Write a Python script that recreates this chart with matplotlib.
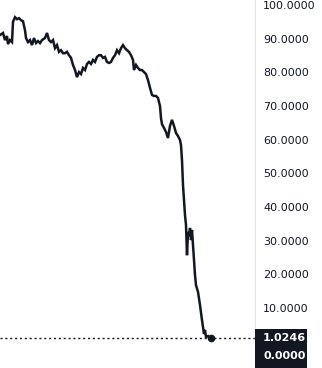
import matplotlib
matplotlib.use("Agg")
import matplotlib.pyplot as plt
from matplotlib.patches import Rectangle

# Data (time index, price)
t = [0, 3, 5, 7, 8, 10, 12, 13, 15, 17, 19, 21, 23, 25, 26, 28, 30, 32, 34, 36,
     38, 40, 42, 45, 47, 49, 51, 53, 55, 57, 59, 61, 63, 65, 67, 69, 71, 73, 75, 77,
     79, 81, 83, 85, 87, 89, 91, 93, 95, 97, 99, 101, 103, 105, 107, 109, 111, 113, 115, 117,
     119, 121, 123, 125, 127, 129, 131, 133, 134, 136, 138, 140, 142, 144, 146, 148, 150, 152, 154, 156,
     158, 160, 161, 162, 164, 166, 168, 170, 172, 174, 176, 178, 180, 181, 182, 183, 184, 185, 186, 187,
     188, 189, 190, 191, 192, 193, 194, 195, 196, 198, 200, 202, 204, 205, 206, 208, 210, 211]
price = [91.1, 91.7, 89.6, 90.8, 88.4, 89.6, 89.0, 95.0, 96.4, 95.8, 96.1, 95.5, 95.2, 92.5, 90.2, 89.0, 89.6, 88.1, 90.2, 88.7,
         89.3, 88.7, 89.6, 90.2, 91.7, 89.6, 89.0, 89.6, 87.2, 88.1, 86.1, 86.6, 85.7, 85.7, 86.1, 85.1, 84.3, 82.2, 80.7, 78.6,
         80.1, 79.5, 81.3, 80.7, 82.5, 83.1, 82.5, 83.7, 83.1, 84.6, 85.1, 85.1, 84.3, 84.6, 83.1, 82.8, 83.1, 84.3, 85.1, 86.6,
         85.7, 87.2, 88.1, 87.2, 86.6, 86.1, 85.1, 83.7, 80.7, 82.2, 81.3, 80.7, 80.7, 80.1, 79.5, 77.7, 75.4, 73.3, 73.0, 73.0,
         72.4, 70.0, 66.4, 64.6, 63.5, 62.3, 60.5, 64.1, 65.9, 64.1, 62.0, 61.1, 59.9, 58.4, 53.9, 46.5, 42.1, 37.6, 34.7, 25.7,
         32.6, 31.4, 33.8, 30.2, 33.2, 28.7, 24.3, 19.8, 16.8, 14.8, 10.9, 6.4, 2.3, 3.5, 1.4, 1.7, 1.1, 1.0246]
last_price = 1.0246
ytick_vals = [10, 20, 30, 40, 50, 60, 70, 80, 90, 100]

LINE = "#131722"
W, H = 322, 368
fig = plt.figure(figsize=(W / 100, H / 100), dpi=100)
ax = fig.add_axes([0, 0, 255 / W, 1])
ax.plot(t, price, color=LINE, lw=1.8, solid_joinstyle="miter")
ax.plot([t[-1]], [price[-1]], "o", color=LINE, ms=4.5)
ax.axhline(last_price, color=LINE, lw=1.0, ls=(0, (1.5, 2)))

ax.set_xlim(0, 255)
ax.set_ylim(-7.8, 101.5)
for s in ax.spines.values():
    s.set_visible(False)
ax.spines["right"].set_visible(True)
ax.spines["right"].set_color("#e0e3eb")
ax.set_xticks([])
ax.yaxis.tick_right()
ax.set_yticks(ytick_vals)
ax.set_yticklabels([f"{v:.4f}" for v in ytick_vals])
ax.tick_params(axis="y", length=0, pad=5.8, labelsize=8, labelcolor=LINE)

# Price label box
fig.patches.append(Rectangle((255 / W, 0), 52 / W, 39 / H, transform=fig.transFigure,
                             facecolor=LINE, edgecolor="none"))
fig.text(263 / W, (H - 338) / H, f"{last_price:.4f}", color="white", fontsize=8,
         va="center", ha="left", fontweight="bold")
fig.text(263 / W, (H - 356) / H, "0.0000", color="white", fontsize=8,
         va="center", ha="left", fontweight="bold")

fig.savefig("out.png", dpi=100)
